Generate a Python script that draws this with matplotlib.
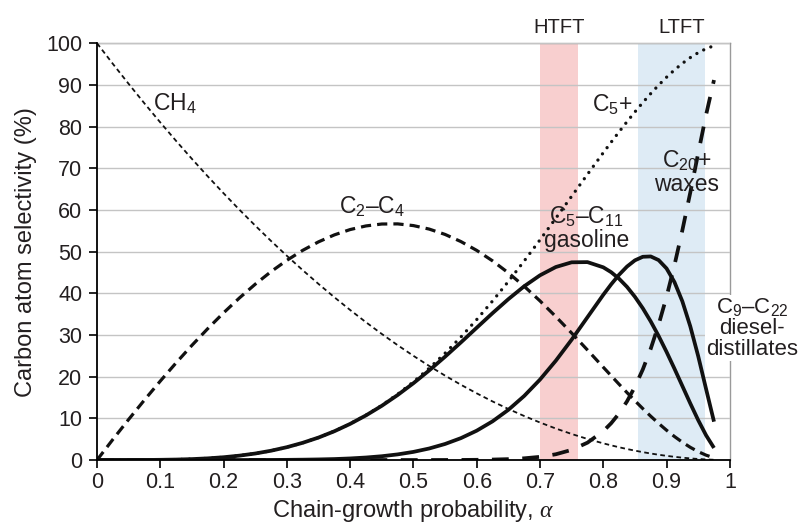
import matplotlib
matplotlib.use('Agg')
from matplotlib import pyplot as plt

plt.rcParams['font.family'] = ['Liberation Sans', 'DejaVu Sans']
plt.rcParams['mathtext.fontset'] = 'custom'
plt.rcParams['mathtext.rm'] = 'Liberation Sans'
plt.rcParams['mathtext.it'] = 'Liberation Serif:italic'

###### Data (carbon selectivity in %)
alpha = [0, .025, .05, .075, .1, .125, .15, .175, .2, .225, .25, .275, .3, .325, .35, .375,
         .4, .425, .45, .475, .5, .525, .55, .575, .6, .625, .65, .675, .7, .725, .75, .775,
         .8, .8125, .825, .8375, .85, .8625, .875, .8875, .9, .9125, .925, .9375, .95, .9625, .975]

ch4 = [100, 95.06, 90.25, 85.56, 81, 76.56, 72.25, 68.06, 64, 60.06, 56.25, 52.56, 49, 45.56,
       42.25, 39.06, 36, 33.06, 30.25, 27.56, 25, 22.56, 20.25, 18.06, 16, 14.06, 12.25, 10.56,
       9, 7.56, 6.25, 5.06, 4, 3.52, 3.06, 2.64, 2.25, 1.89, 1.56, 1.27, 1, 0.77, 0.56, 0.39,
       0.25, 0.14, 0.06]
c2_c4 = [0, 4.94, 9.75, 14.42, 18.95, 23.33, 27.53, 31.53, 35.33, 38.89, 42.19, 45.21, 47.92,
         50.31, 52.35, 54.02, 55.30, 56.17, 56.63, 56.66, 56.25, 55.41, 54.13, 52.42, 50.30,
         47.79, 44.91, 41.69, 38.18, 34.42, 30.47, 26.40, 22.27, 20.22, 18.18, 16.18, 14.23,
         12.33, 10.51, 8.78, 7.15, 5.64, 4.27, 3.05, 2.01, 1.16, 0.53]
c5_plus = [0, 0, 0.00, 0.01, 0.05, 0.11, 0.22, 0.40, 0.67, 1.05, 1.56, 2.23, 3.08, 4.13, 5.40,
           6.92, 8.70, 10.77, 13.12, 15.78, 18.75, 22.03, 25.62, 29.51, 33.70, 38.15, 42.84,
           47.75, 52.82, 58.02, 63.28, 68.54, 73.73, 76.27, 78.75, 81.18, 83.52, 85.78, 87.93,
           89.96, 91.85, 93.60, 95.17, 96.56, 97.74, 98.70, 99.41]
c5_c11 = [0, 0, 0.00, 0.01, 0.05, 0.11, 0.22, 0.40, 0.67, 1.05, 1.56, 2.23, 3.08, 4.13, 5.39,
          6.90, 8.67, 10.71, 13.01, 15.59, 18.43, 21.51, 24.79, 28.22, 31.74, 35.24, 38.60,
          41.69, 44.32, 46.31, 47.44, 47.49, 46.24, 45.07, 43.50, 41.55, 39.17, 36.41, 33.26,
          29.76, 25.95, 21.92, 17.76, 13.59, 9.58, 5.93, 2.90]
c9_c22 = [0, 0, 0, 0, 0, 0, 0, 0, 0.00, 0.00, 0.01, 0.02, 0.04, 0.08, 0.14, 0.23, 0.38, 0.60,
          0.91, 1.35, 1.95, 2.77, 3.85, 5.25, 7.04, 9.28, 12.04, 15.37, 19.30, 23.83, 28.87,
          34.26, 39.64, 42.16, 44.46, 46.42, 47.91, 48.77, 48.85, 47.97, 45.97, 42.70, 38.07,
          32.09, 24.94, 17.03, 9.20]
c20_plus = [0, 0, 0, 0, 0, 0, 0, 0, 0, 0, 0, 0, 0, 0, 0, 0, 0, 0, 0, 0.00, 0.00, 0.00, 0.01,
            0.02, 0.05, 0.11, 0.21, 0.41, 0.76, 1.38, 2.43, 4.16, 6.92, 8.83, 11.18, 14.07,
            17.56, 21.74, 26.69, 32.49, 39.17, 46.74, 55.13, 64.18, 73.58, 82.84, 91.18]

htft = (0.70, 0.76)
ltft = (0.855, 0.96)

x_ticks = [0, .1, .2, .3, .4, .5, .6, .7, .8, .9, 1]
x_tick_labels = ['0', '0.1', '0.2', '0.3', '0.4', '0.5', '0.6', '0.7', '0.8', '0.9', '1']
y_ticks = [0, 10, 20, 30, 40, 50, 60, 70, 80, 90, 100]

txt = '#231f20'

###### Plot
fig = plt.figure(figsize=(8.02, 5.29), dpi=100)
ax = fig.add_axes([0.121, 0.1304, 0.789, 0.7878])

ax.axvspan(htft[0], htft[1], color='#f8cfcf', lw=0, zorder=0)
ax.axvspan(ltft[0], ltft[1], color='#deebf5', lw=0, zorder=0)
ax.yaxis.grid(True, color='#c4c4c4', lw=1.0, zorder=0.5)
ax.set_axisbelow(False)

ax.plot(alpha, ch4, color='#111111', lw=1.3, ls=(0, (2.6, 1.9)), zorder=3)
ax.plot(alpha, c2_c4, color='#111111', lw=2.3, ls=(0, (3.2, 1.9)), zorder=3)
ax.plot(alpha, c5_plus, color='#111111', lw=2.4, ls=(0, (0.01, 2.3)),
        dash_capstyle='round', zorder=3)
ax.plot(alpha, c5_c11, color='#111111', lw=2.7, solid_capstyle='butt', zorder=4)
ax.plot(alpha, c9_c22, color='#111111', lw=2.7, solid_capstyle='butt', zorder=4)
ax.plot(alpha, c20_plus, color='#111111', lw=2.7, ls=(0, (4.5, 3.6)), zorder=4)

ax.set_xlim(0, 1)
ax.set_ylim(0, 100)
ax.set_xticks(x_ticks)
ax.set_xticklabels(x_tick_labels)
ax.set_yticks(y_ticks)
ax.tick_params(axis='both', labelsize=15.5, labelcolor=txt, color='black',
               direction='out', length=6, width=1.2)
ax.tick_params(axis='x', pad=2.5)
ax.tick_params(axis='y', pad=4.5)

for s in ['top', 'right']:
    ax.spines[s].set_color('#9a9a9a')
    ax.spines[s].set_linewidth(1.0)
for s in ['left', 'bottom']:
    ax.spines[s].set_color('black')
    ax.spines[s].set_linewidth(1.3)
    ax.spines[s].set_zorder(5)

ax.set_xlabel(r'Chain-growth probability, $\alpha$', fontsize=17, color=txt, labelpad=4)
ax.set_ylabel('Carbon atom selectivity (%)', fontsize=17, color=txt, labelpad=7)

###### Labels
fs = 16.5
ax.text(0.73, 101.5, 'HTFT', fontsize=14.5, color=txt, ha='center', va='bottom')
ax.text(0.924, 101.5, 'LTFT', fontsize=14.5, color=txt, ha='center', va='bottom')
ax.text(0.089, 85.4, 'CH$_4$', fontsize=fs, color=txt, ha='left', va='center')
ax.text(0.435, 60.7, 'C$_2$–C$_4$', fontsize=fs, color=txt, ha='center', va='center')
ax.text(0.782, 85.2, 'C$_5$+', fontsize=fs, color=txt, ha='left', va='center')
ax.text(0.932, 69.0, 'C$_{20}$+\nwaxes', fontsize=fs, color=txt, ha='center',
        va='center', linespacing=1.0, zorder=6)
ax.text(0.774, 55.7, 'C$_5$–C$_{11}$\ngasoline', fontsize=fs, color=txt, ha='center',
        va='center', linespacing=1.0, zorder=6)
ax.text(1.035, 31.7, 'C$_9$–C$_{22}$\ndiesel-\ndistillates', fontsize=16, color=txt,
        ha='center', va='center', linespacing=1.0, zorder=6, clip_on=False,
        bbox=dict(facecolor='white', edgecolor='none', pad=1))

fig.savefig('out.png', dpi=100)
